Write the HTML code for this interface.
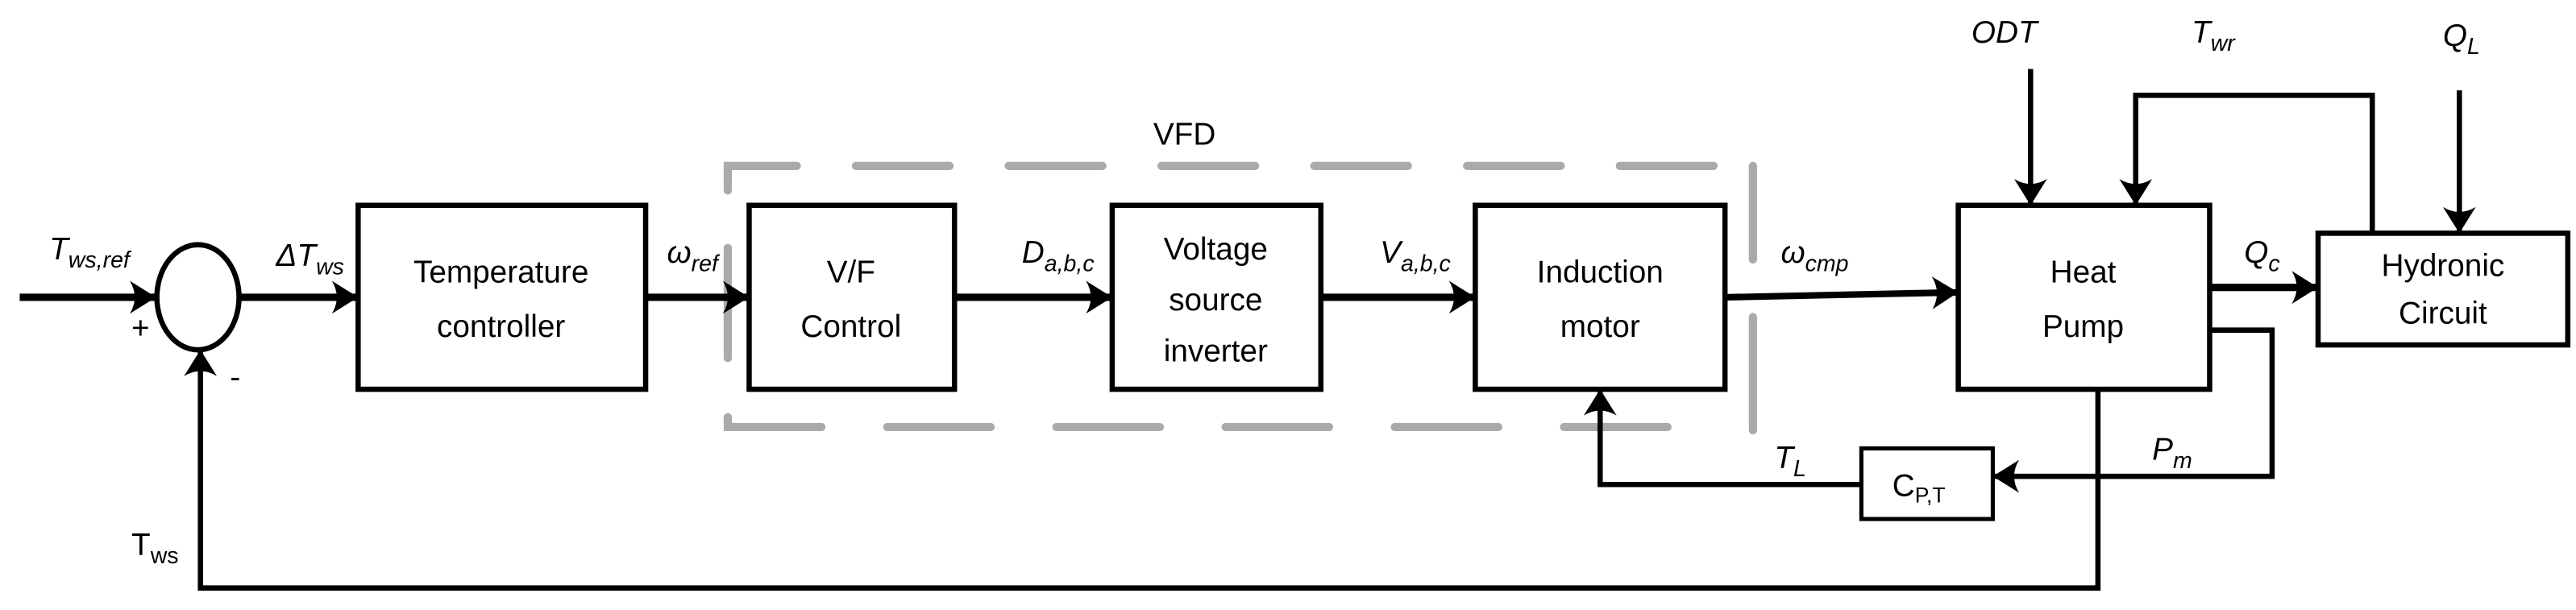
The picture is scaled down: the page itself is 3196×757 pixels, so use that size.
<!DOCTYPE html>
<html><head><meta charset="utf-8"><style>
html,body{margin:0;padding:0;background:#fff;}
svg{display:block;}
text{font-family:"Liberation Sans",sans-serif;font-size:19px;fill:#000;}
.i{font-style:italic;}
</style></head><body>
<svg width="3196" height="757" viewBox="0 0 1568 371.4" preserveAspectRatio="none" xmlns="http://www.w3.org/2000/svg">
<defs>
<marker id="a" markerUnits="userSpaceOnUse" markerWidth="24" markerHeight="24" refX="20" refY="12" orient="auto">
<path d="M20,12 L4,2 Q10,12 4,22 Z" fill="#000"/>
</marker>
</defs>
<g fill="none" stroke="#000" stroke-width="3.2">
<rect x="218" y="125" width="175" height="112"/>
<rect x="456" y="125" width="125" height="112"/>
<rect x="677" y="125" width="127" height="112"/>
<rect x="898" y="125" width="152" height="112"/>
<rect x="1192" y="125" width="153" height="112"/>
<rect x="1411" y="142" width="152" height="68"/>
<rect x="1133" y="273" width="80" height="43" stroke-width="2.5"/>
<ellipse cx="120.5" cy="181" rx="25" ry="32"/>
</g>
<g stroke="#aaa" stroke-width="5" stroke-linecap="round" fill="none">
<path d="M443,116 V101 H1067" stroke-dasharray="57,36"/>
<path d="M1067,101 V158"/>
<path d="M1067,193 V262"/>
<path d="M443,151 V218"/>
<path d="M443,254 V260 H1040" stroke-dasharray="63,40"/>
</g>
<g fill="none" stroke="#000" stroke-width="3.2" marker-end="url(#a)">
<path d="M12,181 H95" stroke-width="4.5"/>
<path d="M146,181 H218" stroke-width="4.5"/>
<path d="M393,181 H456" stroke-width="4.5"/>
<path d="M581,181 H677" stroke-width="4.5"/>
<path d="M804,181 H898" stroke-width="4.5"/>
<path d="M1050,181 L1192,178" stroke-width="4"/>
<path d="M1345,175 H1411" stroke-width="4.5"/>
<path d="M1236,42 V125"/>
<path d="M1444,142 V58 H1300 V125"/>
<path d="M1497,55 V142"/>
<path d="M1345,201 H1383 V290 H1213"/>
<path d="M1133,295 H974 V237"/>
<path d="M1277,237 V358 H122 V213"/>
</g>
<text x="30" y="158" class="i">T<tspan font-size="14" dy="5">ws,ref</tspan></text>
<text x="80" y="206">+</text>
<text x="140" y="236">-</text>
<text x="168" y="162" class="i">ΔT<tspan font-size="14" dy="5">ws</tspan></text>
<text x="406" y="160" class="i">ω<tspan font-size="14" dy="5">ref</tspan></text>
<text x="622" y="160" class="i">D<tspan font-size="14" dy="5">a,b,c</tspan></text>
<text x="840" y="160" class="i">V<tspan font-size="14" dy="5">a,b,c</tspan></text>
<text x="1084" y="160" class="i">ω<tspan font-size="14" dy="5">cmp</tspan></text>
<text x="1366" y="160" class="i">Q<tspan font-size="14" dy="5">c</tspan></text>
<text x="1310" y="280" class="i">P<tspan font-size="14" dy="5">m</tspan></text>
<text x="1080" y="285" class="i">T<tspan font-size="14" dy="5">L</tspan></text>
<text x="1200" y="26" class="i">ODT</text>
<text x="1334" y="26" class="i">T<tspan font-size="14" dy="5">wr</tspan></text>
<text x="1487" y="28" class="i">Q<tspan font-size="14" dy="5">L</tspan></text>
<text x="80" y="338">T<tspan font-size="14" dy="5">ws</tspan></text>
<text x="702" y="88">VFD</text>
<g text-anchor="middle">
<text x="305" y="172">Temperature</text>
<text x="305" y="205">controller</text>
<text x="518" y="172">V/F</text>
<text x="518" y="205">Control</text>
<text x="740" y="158">Voltage</text>
<text x="740" y="189">source</text>
<text x="740" y="220">inverter</text>
<text x="974" y="172">Induction</text>
<text x="974" y="205">motor</text>
<text x="1268" y="172">Heat</text>
<text x="1268" y="205">Pump</text>
<text x="1487" y="168">Hydronic</text>
<text x="1487" y="197">Circuit</text>
<text x="1168" y="302">C<tspan font-size="13" dy="4">P,T</tspan></text>
</g>
</svg>
</body></html>
